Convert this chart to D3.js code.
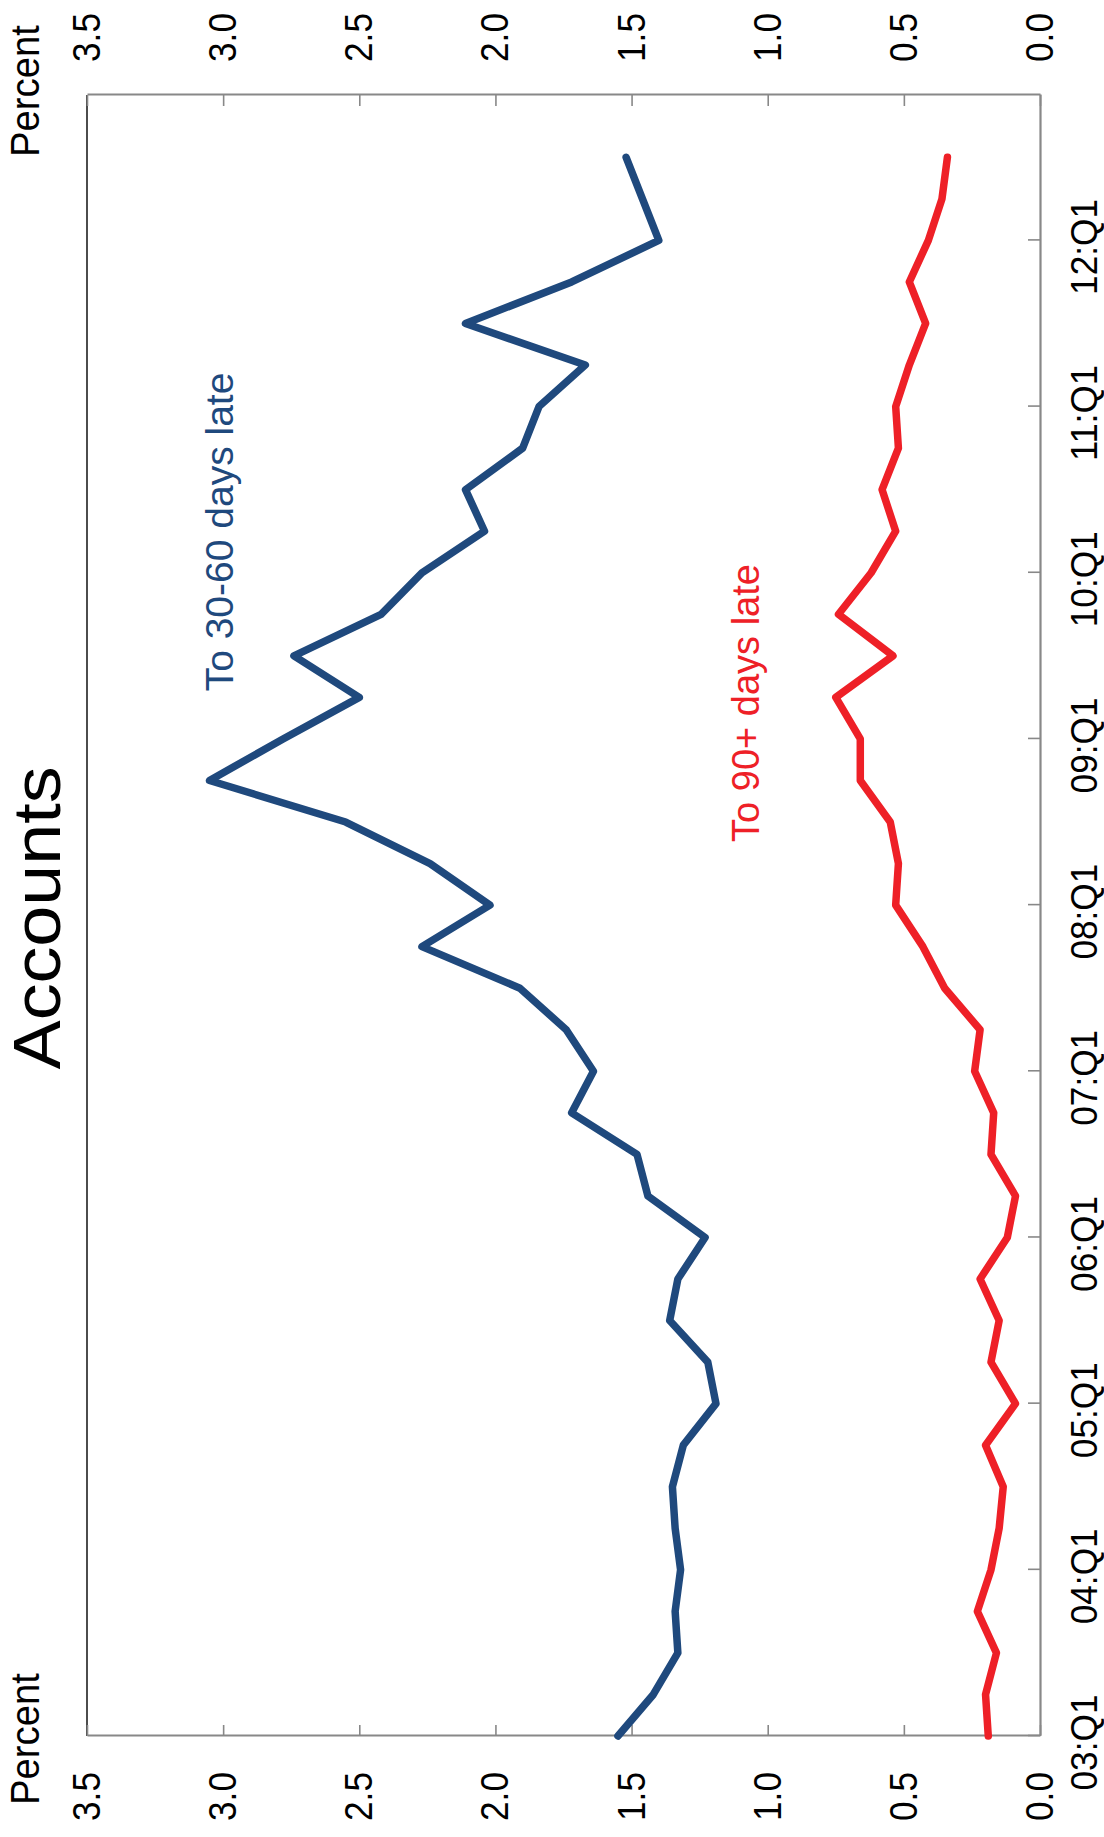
<!DOCTYPE html>
<html><head><meta charset="utf-8">
<script src="https://cdn.jsdelivr.net/npm/d3@7"></script>
<style>
html,body{margin:0;padding:0;background:#fff;}
svg{display:block;font-family:"Liberation Sans",Arial,Helvetica,sans-serif;}
</style>
</head><body>
<script>
// Quarters 03:Q1 .. 12:Q3
const quarters = ["03:Q1","03:Q2","03:Q3","03:Q4","04:Q1","04:Q2","04:Q3","04:Q4",
  "05:Q1","05:Q2","05:Q3","05:Q4","06:Q1","06:Q2","06:Q3","06:Q4",
  "07:Q1","07:Q2","07:Q3","07:Q4","08:Q1","08:Q2","08:Q3","08:Q4",
  "09:Q1","09:Q2","09:Q3","09:Q4","10:Q1","10:Q2","10:Q3","10:Q4",
  "11:Q1","11:Q2","11:Q3","11:Q4","12:Q1","12:Q2","12:Q3"];
const late30to60 = [1.55,1.42,1.33,1.34,1.32,1.34,1.35,1.31,
  1.19,1.22,1.36,1.33,1.23,1.44,1.48,1.72,
  1.64,1.74,1.91,2.27,2.02,2.24,2.55,3.05,
  2.78,2.50,2.74,2.42,2.27,2.04,2.11,1.90,
  1.84,1.67,2.11,1.72,1.40,1.46,1.52];
const late90plus = [0.19,0.20,0.16,0.23,0.18,0.15,0.135,0.20,
  0.09,0.18,0.15,0.22,0.12,0.09,0.18,0.17,
  0.24,0.22,0.35,0.43,0.53,0.52,0.55,0.66,
  0.66,0.75,0.54,0.74,0.62,0.53,0.58,0.52,
  0.53,0.48,0.42,0.48,0.41,0.36,0.34];
const valueTicks = [0,0.5,1.0,1.5,2.0,2.5,3.0,3.5];
const timeTickLabels = ["03:Q1","04:Q1","05:Q1","06:Q1","07:Q1","08:Q1","09:Q1","10:Q1","11:Q1","12:Q1"];
const titleText = "Accounts";
const axisTitle = "Percent";
const seriesNames = ["To 30-60 days late","To 90+ days late"];
const seriesColors = ["#1f497d","#ee2027"];

const W = 1104, H = 1837;
const svg = d3.select("body").append("svg").attr("width", W).attr("height", H);
svg.append("rect").attr("width", W).attr("height", H).attr("fill", "#fff");
// chart drawn in landscape orientation then rotated -90deg
const g = svg.append("g").attr("transform", `translate(0,${H}) rotate(-90)`);

const x = d3.scaleLinear().domain([0, 39.5]).range([101, 1742]);
const y = d3.scaleLinear().domain([0, 3.5]).range([1040, 87]);

// top border (black, thin)
g.append("line").attr("x1", x(0)).attr("x2", x(39.5)).attr("y1", y(3.5)).attr("y2", y(3.5))
  .attr("stroke", "#000").attr("stroke-width", 1.4);

const fmt = d3.format(".1f");
const leftAxis = d3.axisLeft(y).tickValues(valueTicks).tickFormat(fmt).tickSizeInner(-11).tickSizeOuter(0).tickPadding(36);
const rightAxis = d3.axisRight(y).tickValues(valueTicks).tickFormat(fmt).tickSizeInner(-11).tickSizeOuter(0).tickPadding(33);
const yearIdx = timeTickLabels.map(l => quarters.indexOf(l));
const bottomAxis = d3.axisBottom(x).tickValues(yearIdx).tickFormat(i => quarters[i]).tickSizeInner(-12).tickSizeOuter(0).tickPadding(31);

function style(sel, fs) {
  sel.select(".domain").attr("stroke", "#888").attr("stroke-width", 2.2);
  sel.selectAll(".tick line").attr("stroke", "#888").attr("stroke-width", 1.6);
  sel.selectAll(".tick text").attr("fill", "#000").attr("font-size", fs)
    .attr("font-family", '"Liberation Sans",Arial,sans-serif');
}
const gl = g.append("g").attr("transform", `translate(${x(0)},0)`).call(leftAxis);
style(gl, 39);
gl.selectAll(".tick text").attr("textLength", 49).attr("lengthAdjust", "spacingAndGlyphs");
const gr = g.append("g").attr("transform", `translate(${x(39.5)},0)`).call(rightAxis);
style(gr, 39);
gr.selectAll(".tick text").attr("textLength", 49).attr("lengthAdjust", "spacingAndGlyphs");
const gb = g.append("g").attr("transform", `translate(0,${y(0)})`).call(bottomAxis);
style(gb, 37);
gb.selectAll(".tick text").attr("dx", -7).attr("textLength", 96).attr("lengthAdjust", "spacingAndGlyphs");

// lines
const line = d3.line().x((d, i) => x(i)).y(d => y(d));
[late30to60, late90plus].forEach((s, k) => {
  g.append("path").datum(s).attr("d", line).attr("fill", "none")
    .attr("stroke", seriesColors[k]).attr("stroke-width", 7.5)
    .attr("stroke-linejoin", "round").attr("stroke-linecap", "round");
});

// texts
g.append("text").attr("x", 919).attr("y", 60).attr("text-anchor", "middle")
  .attr("font-size", 66).attr("textLength", 303).attr("lengthAdjust", "spacingAndGlyphs")
  .attr("fill", "#000").text(titleText);
g.append("text").attr("x", 32).attr("y", 39).attr("text-anchor", "start")
  .attr("font-size", 40).attr("textLength", 132).attr("lengthAdjust", "spacingAndGlyphs").text(axisTitle);
g.append("text").attr("x", 1812).attr("y", 39).attr("text-anchor", "end")
  .attr("font-size", 40).attr("textLength", 132).attr("lengthAdjust", "spacingAndGlyphs").text(axisTitle);
g.append("text").attr("x", 1305).attr("y", 233).attr("text-anchor", "middle")
  .attr("font-size", 39).attr("fill", seriesColors[0]).text(seriesNames[0]);
g.append("text").attr("x", 1134).attr("y", 759).attr("text-anchor", "middle")
  .attr("font-size", 38).attr("fill", seriesColors[1]).text(seriesNames[1]);
</script>
</body></html>
